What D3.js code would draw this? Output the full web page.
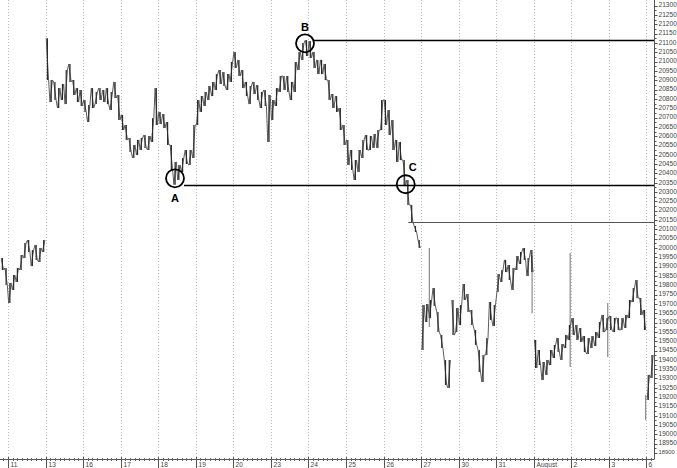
<!DOCTYPE html>
<html><head><meta charset="utf-8">
<script src="https://cdn.jsdelivr.net/npm/d3@7"></script>
<style>html,body{margin:0;padding:0;background:#fff;}svg{display:block;}</style>
</head><body>
<svg id="c" width="677" height="468"></svg>
<script>
// ---- data ----
const dayLabels = ["11","13","16","17","18","19","20","23","24","25","26","27","30","31","August","2","3","6"];
const barsPerDay = 10;
const firstBarT = -0.2; // first bar starts two slots before day "11"
const highs = [
 19946,19893,
 19812,19855,19893,19962,20027,20043,19989,20016,20000,20043,
 21125,20901,20891,20858,20880,20955,20987,20901,20858,20848,
 20794,20767,20858,20837,20858,20848,20858,20837,20891,20821,
 20714,20660,20590,20553,20580,20590,20606,20601,20697,20858,
 20730,20719,20676,20553,20462,20445,20483,20526,20526,20660,
 20794,20815,20837,20869,20891,20933,20955,20944,20933,20998,
 21052,21009,20955,20891,20869,20891,20874,20837,20848,20821,
 20794,20858,20923,20923,20923,20891,20998,21052,21100,21115,
 21110,21052,21009,21009,20987,20901,20826,20815,20751,20660,
 20580,20526,20472,20526,20580,20606,20601,20612,20633,20794,
 20794,20740,20687,20580,20569,20472,20365,20231,20118,20043,
 19694,19699,19721,19785,19657,19533,19399,19399,19721,19678,
 19694,19807,19753,19667,19560,19453,19426,19517,19710,19694,
 19860,19882,19936,19909,19893,19957,19979,20000,19946,19989,
 19507,19453,19388,19399,19453,19480,19517,19485,19533,19587,
 19624,19587,19571,19528,19517,19528,19549,19603,19641,19624,
 19635,19624,19624,19624,19641,19721,19785,19828,19732,19667,
 19319,19426
];
const lows = [
 19882,19802,
 19705,19775,19818,19882,19946,19979,19903,19936,19925,19979,
 20901,20783,20794,20751,20794,20772,20891,20821,20783,20762,
 20730,20676,20751,20772,20794,20783,20772,20740,20805,20687,
 20633,20580,20515,20483,20499,20526,20537,20526,20569,20660,
 20665,20644,20553,20419,20340,20365,20408,20451,20445,20483,
 20660,20730,20762,20794,20815,20848,20880,20869,20848,20891,
 20966,20923,20858,20815,20772,20826,20794,20751,20762,20569,
 20687,20762,20837,20848,20837,20794,20837,20955,21009,21030,
 21020,20966,20933,20933,20901,20794,20751,20730,20633,20553,
 20445,20419,20365,20408,20483,20526,20526,20537,20537,20633,
 20660,20606,20526,20462,20472,20338,20231,20140,20086,20000,
 19453,19603,19624,19689,19549,19463,19265,19249,19533,19549,
 19587,19721,19657,19587,19480,19335,19281,19426,19614,19581,
 19764,19818,19871,19828,19775,19882,19914,19936,19850,19871,
 19356,19372,19292,19319,19372,19410,19442,19399,19463,19507,
 19533,19507,19496,19442,19431,19463,19474,19517,19549,19560,
 19560,19549,19560,19560,19571,19624,19710,19731,19641,19560,
 19185,19303
];
// thin single-print spikes (time in day units, high, low)
const spikeT    = [11.22, 13.956, 14.97, 15.97, 16.98];
const spikeHigh = [20000, 19960, 19973, 19705, 19211];
const spikeLow  = [19576, 19650, 19362, 19415, 19077];
// annotations
const markLabels = ["A","B","C"];
const markT      = [4.447, 7.909, 10.591];
const markV      = [20374, 21098, 20342];
const levelV     = [20340, 21115, 20140];
const levelStartT= [4.447, 7.909, 10.66];
const yTickMin = 18900, yTickMax = 21300, yTickStep = 50;

// ---- drawing ----
const svg = d3.select("#c");
const W = 677, H = 468;
const axisX = 654.5, axisY = 459;
const x = d3.scaleLinear().domain([0, 17]).range([8, 646.4]);
const y = d3.scaleLinear().domain([18868, 21330.6]).range([axisY, 0]);
const FONT = "Liberation Sans, Arial, sans-serif";

// grid
const gridG = svg.append("g");
dayLabels.forEach((d,i)=>{
  gridG.append("line").attr("x1",Math.round(x(i))+0.5).attr("x2",Math.round(x(i))+0.5).attr("y1",0).attr("y2",axisY)
    .attr("stroke","#bdbdbd").attr("stroke-width",1).attr("stroke-dasharray","1,2");
});

// bars
svg.append("clipPath").attr("id","pc").append("rect").attr("x",0).attr("y",0).attr("width",axisX).attr("height",axisY);
const plot = svg.append("g").attr("clip-path","url(#pc)");
const bars = highs.map((h,k)=>({t: firstBarT + (k+0.5)/barsPerDay, h, l: lows[k]}));
plot.selectAll("line.spk").data(spikeT.map((t,i)=>({t,h:spikeHigh[i],l:spikeLow[i]}))).join("line")
  .attr("class","spk").attr("x1",d=>x(d.t)).attr("x2",d=>x(d.t)).attr("y1",d=>y(d.h)).attr("y2",d=>y(d.l))
  .attr("stroke","#8a8a8a").attr("stroke-width",1.2);

// continuous jagged trace through the bars' extremes (broken at session gaps)
let pathD = "";
bars.forEach((b,k)=>{
  const prev = bars[k-1], next = bars[k+1];
  const brokenBefore = !prev || b.l > prev.h + 100 || b.h < prev.l - 100;
  const goingUp = next ? (next.h + next.l) > (b.h + b.l) : true;
  const a = goingUp ? b.l : b.h, c = goingUp ? b.h : b.l;
  const xx = x(b.t);
  pathD += (brokenBefore ? "M" : "L") + (xx-1.2).toFixed(1) + "," + y(a).toFixed(1) + "L" + (xx+1.2).toFixed(1) + "," + y(c).toFixed(1);
});
plot.append("path").attr("d",pathD).attr("fill","none").attr("stroke","#5c5c5c").attr("stroke-width",1);
plot.selectAll("line.bar").data(bars).join("line")
  .attr("class","bar").attr("x1",d=>x(d.t)).attr("x2",d=>x(d.t)).attr("y1",d=>y(d.h)).attr("y2",d=>y(d.l))
  .attr("stroke","#2a2a2a").attr("stroke-width",1.2);

// levels and circles
const R = 9;
markLabels.forEach((lab,i)=>{
  const ly = Math.round(y(levelV[i]))+0.5;
  if (i < 2) {
    svg.append("line").attr("x1",x(levelStartT[i]) + R).attr("x2",axisX).attr("y1",ly).attr("y2",ly)
      .attr("stroke","#000").attr("stroke-width",1.3);
  } else {
    svg.append("line").attr("x1",x(levelStartT[i])).attr("x2",axisX).attr("y1",ly).attr("y2",ly)
      .attr("stroke","#555").attr("stroke-width",1);
  }
});
markLabels.forEach((lab,i)=>{
  svg.append("circle").attr("cx",x(markT[i])).attr("cy",y(markV[i])).attr("r",R)
    .attr("fill","none").attr("stroke","#000").attr("stroke-width",1.8);
});
const labOff = [[0,21],[0,-15],[7,-16]];
markLabels.forEach((lab,i)=>{
  svg.append("text").attr("x",x(markT[i])+labOff[i][0]).attr("y",y(markV[i])+labOff[i][1])
    .attr("text-anchor","middle").attr("dominant-baseline","middle")
    .attr("font-family",FONT).attr("font-weight","bold").attr("font-size",11)
    .attr("fill","#000").text(lab);
});

// right axis
const ax = svg.append("g");
ax.append("line").attr("x1",axisX).attr("x2",axisX).attr("y1",0).attr("y2",axisY).attr("stroke","#555").attr("stroke-width",1);
for (let v = yTickMin; v <= yTickMax; v += yTickStep/2) {
  const yy = Math.round(y(v))+0.5;
  const major = (v % yTickStep) === 0;
  ax.append("line").attr("x1",axisX).attr("x2",axisX+(major?3:2)).attr("y1",yy).attr("y2",yy).attr("stroke","#555");
  if (major) {
    const last = v === yTickMin;
    ax.append("text").attr("x",axisX+4).attr("y",last ? 452.5 : y(v)).attr("dominant-baseline","middle")
      .attr("font-family",FONT).attr("font-size",last ? 5.8 : 6.6).attr("fill","#444").text(v);
  }
}

// bottom axis
const bx = svg.append("g");
bx.append("line").attr("x1",0).attr("x2",axisX).attr("y1",axisY+0.5).attr("y2",axisY+0.5).attr("stroke","#555");
for (let i = -1; i < dayLabels.length; i++) {
  for (let s = 1; s < 8; s++) {
    const xx = Math.round(x(i + s/8))+0.5;
    if (xx < 0 || xx > axisX) continue;
    bx.append("line").attr("x1",xx).attr("x2",xx).attr("y1",axisY-1).attr("y2",axisY+2).attr("stroke","#666");
  }
}
dayLabels.forEach((d,i)=>{
  const xx = Math.round(x(i))+0.5;
  bx.append("line").attr("x1",xx).attr("x2",xx).attr("y1",axisY-2).attr("y2",H).attr("stroke","#555");
  bx.append("text").attr("x",xx+2).attr("y",466.5)
    .attr("font-family",FONT).attr("font-size",6.6).attr("fill","#444").text(d);
});
</script>
</body></html>
